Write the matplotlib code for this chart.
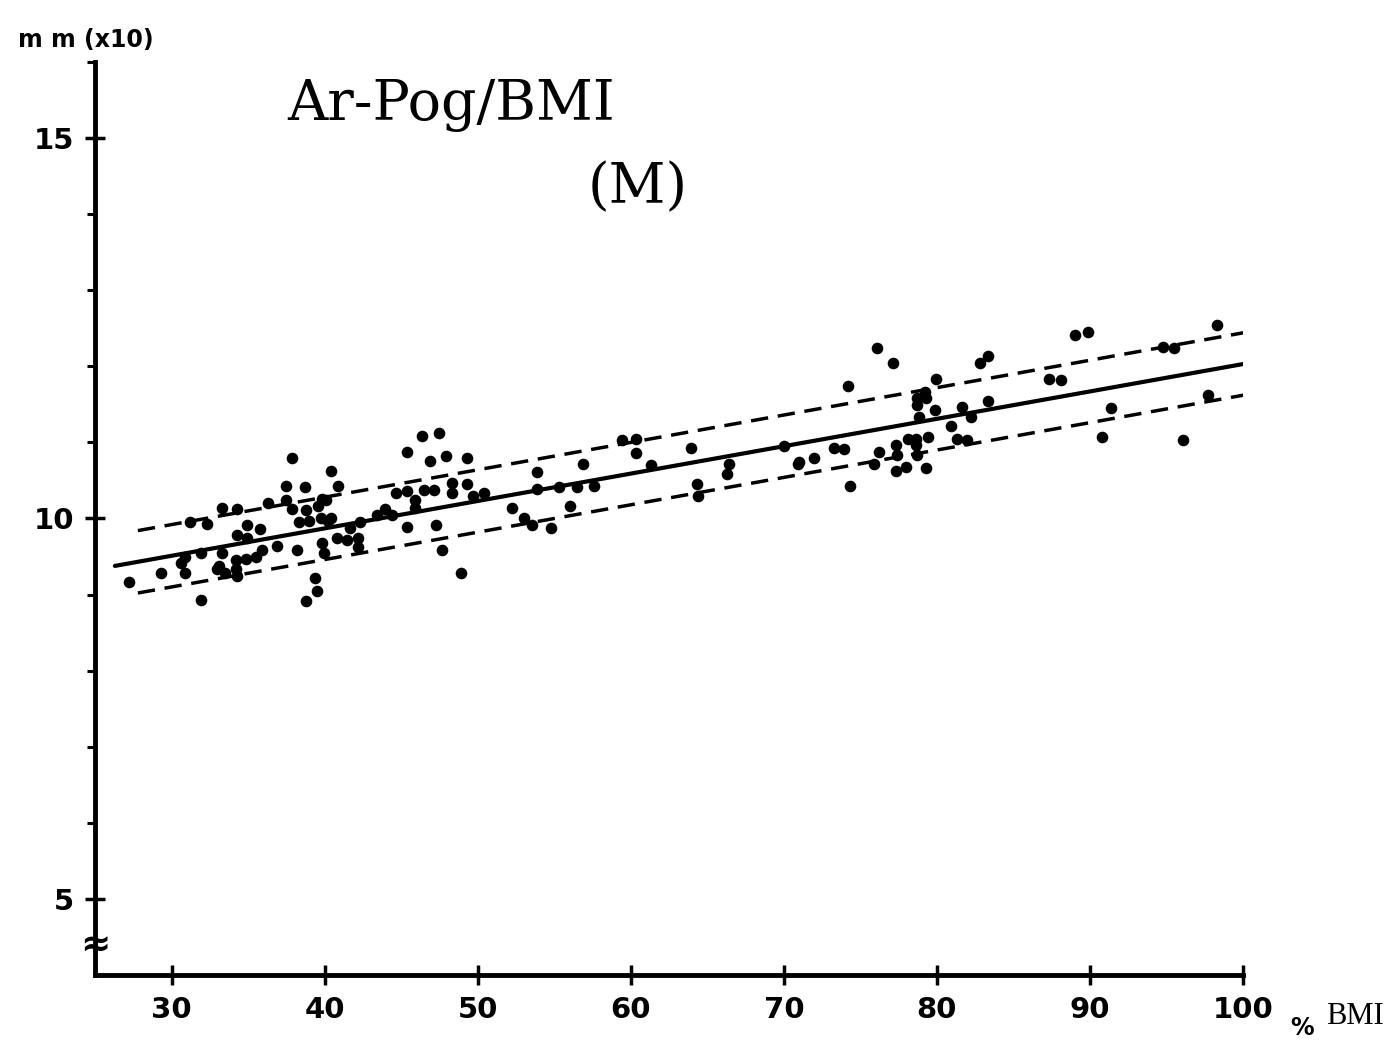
import numpy as np
import matplotlib
matplotlib.use('Agg')
import matplotlib.pyplot as plt

# BMI (%) and Ar-Pog (mm x10)
bmi = [27.25, 29.3, 30.85, 31.9, 30.6, 31.2, 32.3, 33.3, 34.25, 36.3, 37.45, 37.85,
       34.9, 35.8, 34.25, 34.9, 36.9, 38.2, 31.95, 33.3, 30.9, 33.1, 34.2, 34.85,
       35.5, 35.9, 32.95, 33.5, 34.25, 34.2, 37.45, 37.85,
       38.75, 40.4, 40.9, 39.8, 38.8, 38.3, 38.95, 39.75, 40.25, 39.8, 39.95, 40.8,
       41.45, 42.2, 42.2, 39.4, 39.5, 38.8, 39.55, 40.1, 40.4, 41.65, 42.3,
       43.4, 43.95, 44.4, 44.65, 45.4, 45.9, 45.9, 46.5, 47.15, 45.4, 46.35, 47.5,
       46.9, 47.9, 49.3, 49.3, 48.3, 48.3, 50.4, 49.7, 45.4, 47.25, 47.65, 48.9, 52.25,
       53.9, 56.9, 59.45, 60.35, 60.35, 63.95, 61.35, 66.4, 66.3, 70.0, 70.9,
       53.9, 55.3, 56.5, 57.6, 56.0, 53.0, 53.55, 54.8, 64.35, 64.4,
       71.0, 72.0, 73.3, 73.95, 74.2, 74.3, 75.9, 76.25, 76.1, 77.15, 77.35, 77.4,
       77.35, 78.0, 78.1, 78.65, 78.65, 78.7, 79.3, 79.4, 78.7, 79.2, 79.3, 78.7,
       78.8, 79.85, 79.95, 80.9, 81.3, 81.65, 81.95, 82.25, 82.8, 83.35, 83.35,
       87.3, 88.1, 89.0, 89.85, 90.8, 91.4, 94.75, 95.5, 96.05, 97.7, 98.3]
arpog = [9.17, 9.28, 9.28, 8.93, 9.41, 9.95, 9.93, 10.14, 10.13, 10.21, 10.43, 10.80,
         9.91, 9.86, 9.78, 9.74, 9.64, 9.58, 9.54, 9.55, 9.49, 9.38, 9.45, 9.47,
         9.49, 9.58, 9.34, 9.29, 9.25, 9.34, 10.24, 10.13,
         10.41, 10.63, 10.43, 10.26, 10.11, 9.95, 9.97, 10.0, 9.97, 9.68, 9.54, 9.75,
         9.72, 9.75, 9.62, 9.22, 9.05, 8.91, 10.17, 10.24, 10.0, 9.87, 9.95,
         10.04, 10.13, 10.04, 10.33, 10.36, 10.24, 10.14, 10.37, 10.37, 10.87, 11.09, 11.12,
         10.76, 10.82, 10.79, 10.46, 10.47, 10.34, 10.34, 10.29, 9.89, 9.91, 9.59, 9.28, 10.14,
         10.61, 10.71, 11.03, 11.05, 10.86, 10.93, 10.70, 10.72, 10.59, 10.95, 10.72,
         10.39, 10.41, 10.41, 10.43, 10.16, 10.0, 9.91, 9.87, 10.46, 10.30,
         10.74, 10.79, 10.93, 10.91, 11.74, 10.43, 10.72, 10.87, 12.24, 12.04, 10.96, 10.83,
         10.62, 10.68, 11.05, 11.05, 10.96, 10.83, 10.66, 11.07, 11.59, 11.66, 11.59, 11.49,
         11.33, 11.43, 11.83, 11.22, 11.05, 11.47, 11.03, 11.33, 12.04, 12.13, 11.55,
         11.84, 11.82, 12.41, 12.45, 11.07, 11.45, 12.26, 12.24, 11.03, 11.62, 12.54]

# regression line and confidence band
fit_intercept = 8.43
fit_slope = 0.036
band = 0.41
fit_x = [26.3, 100.0]
band_x = [27.8, 100.3]

fig = plt.figure(figsize=(13.87, 10.42), dpi=100)
ax = fig.add_axes([0.0685, 0.0643, 0.8277, 0.8762])

ax.scatter(bmi, arpog, s=70, color='black', zorder=3, linewidths=0)

fx = np.array(fit_x)
bx = np.array(band_x)
ax.plot(fx, fit_intercept + fit_slope * fx, color='black', lw=3.0, solid_capstyle='round')
for off in (band, -band):
    ax.plot(bx, fit_intercept + off + fit_slope * bx, color='black', lw=2.5,
            linestyle=(0, (5, 2.8)))

ax.set_xlim(25, 100)
ax.set_ylim(4, 16)
for s in ['top', 'right']:
    ax.spines[s].set_visible(False)
for s in ['left', 'bottom']:
    ax.spines[s].set_linewidth(3.5)

ax.set_xticks(range(30, 101, 10))
ax.set_xticklabels(['30', '40', '50', '60', '70', '80', '90', '100'])
ax.set_yticks([5, 10, 15])
ax.set_yticks([6, 7, 8, 9, 11, 12, 13, 14, 16], minor=True)
ax.tick_params(axis='both', which='major', direction='inout', length=14, width=2.5,
               labelsize=21, pad=8)
ax.tick_params(axis='y', which='minor', direction='out', length=6, width=2.2)
for lab in ax.get_xticklabels() + ax.get_yticklabels():
    lab.set_fontweight('bold')

# axis break mark
ax.text(25, 4.38, '≈', ha='center', va='center', fontsize=26, fontweight='bold',
        clip_on=False)

fig.text(18 / 1387, 1 - 40 / 1042, 'm m (x10)', ha='left', va='center',
         fontsize=17, fontweight='semibold')
fig.text(287 / 1387, 1 - 105 / 1042, 'Ar-Pog/BMI', ha='left', va='center',
         fontsize=40, family='DejaVu Serif')
fig.text(638 / 1387, 1 - 188 / 1042, '(M)', ha='center', va='center',
         fontsize=40, family='DejaVu Serif')
fig.text(1302 / 1387, 1 - 1028 / 1042, '%', ha='center', va='center',
         fontsize=17, fontweight='bold')
fig.text(1326 / 1387, 1 - 1016 / 1042, 'BMI', ha='left', va='center',
         fontsize=22, family='Liberation Serif')

fig.savefig('out.png', dpi=100)
